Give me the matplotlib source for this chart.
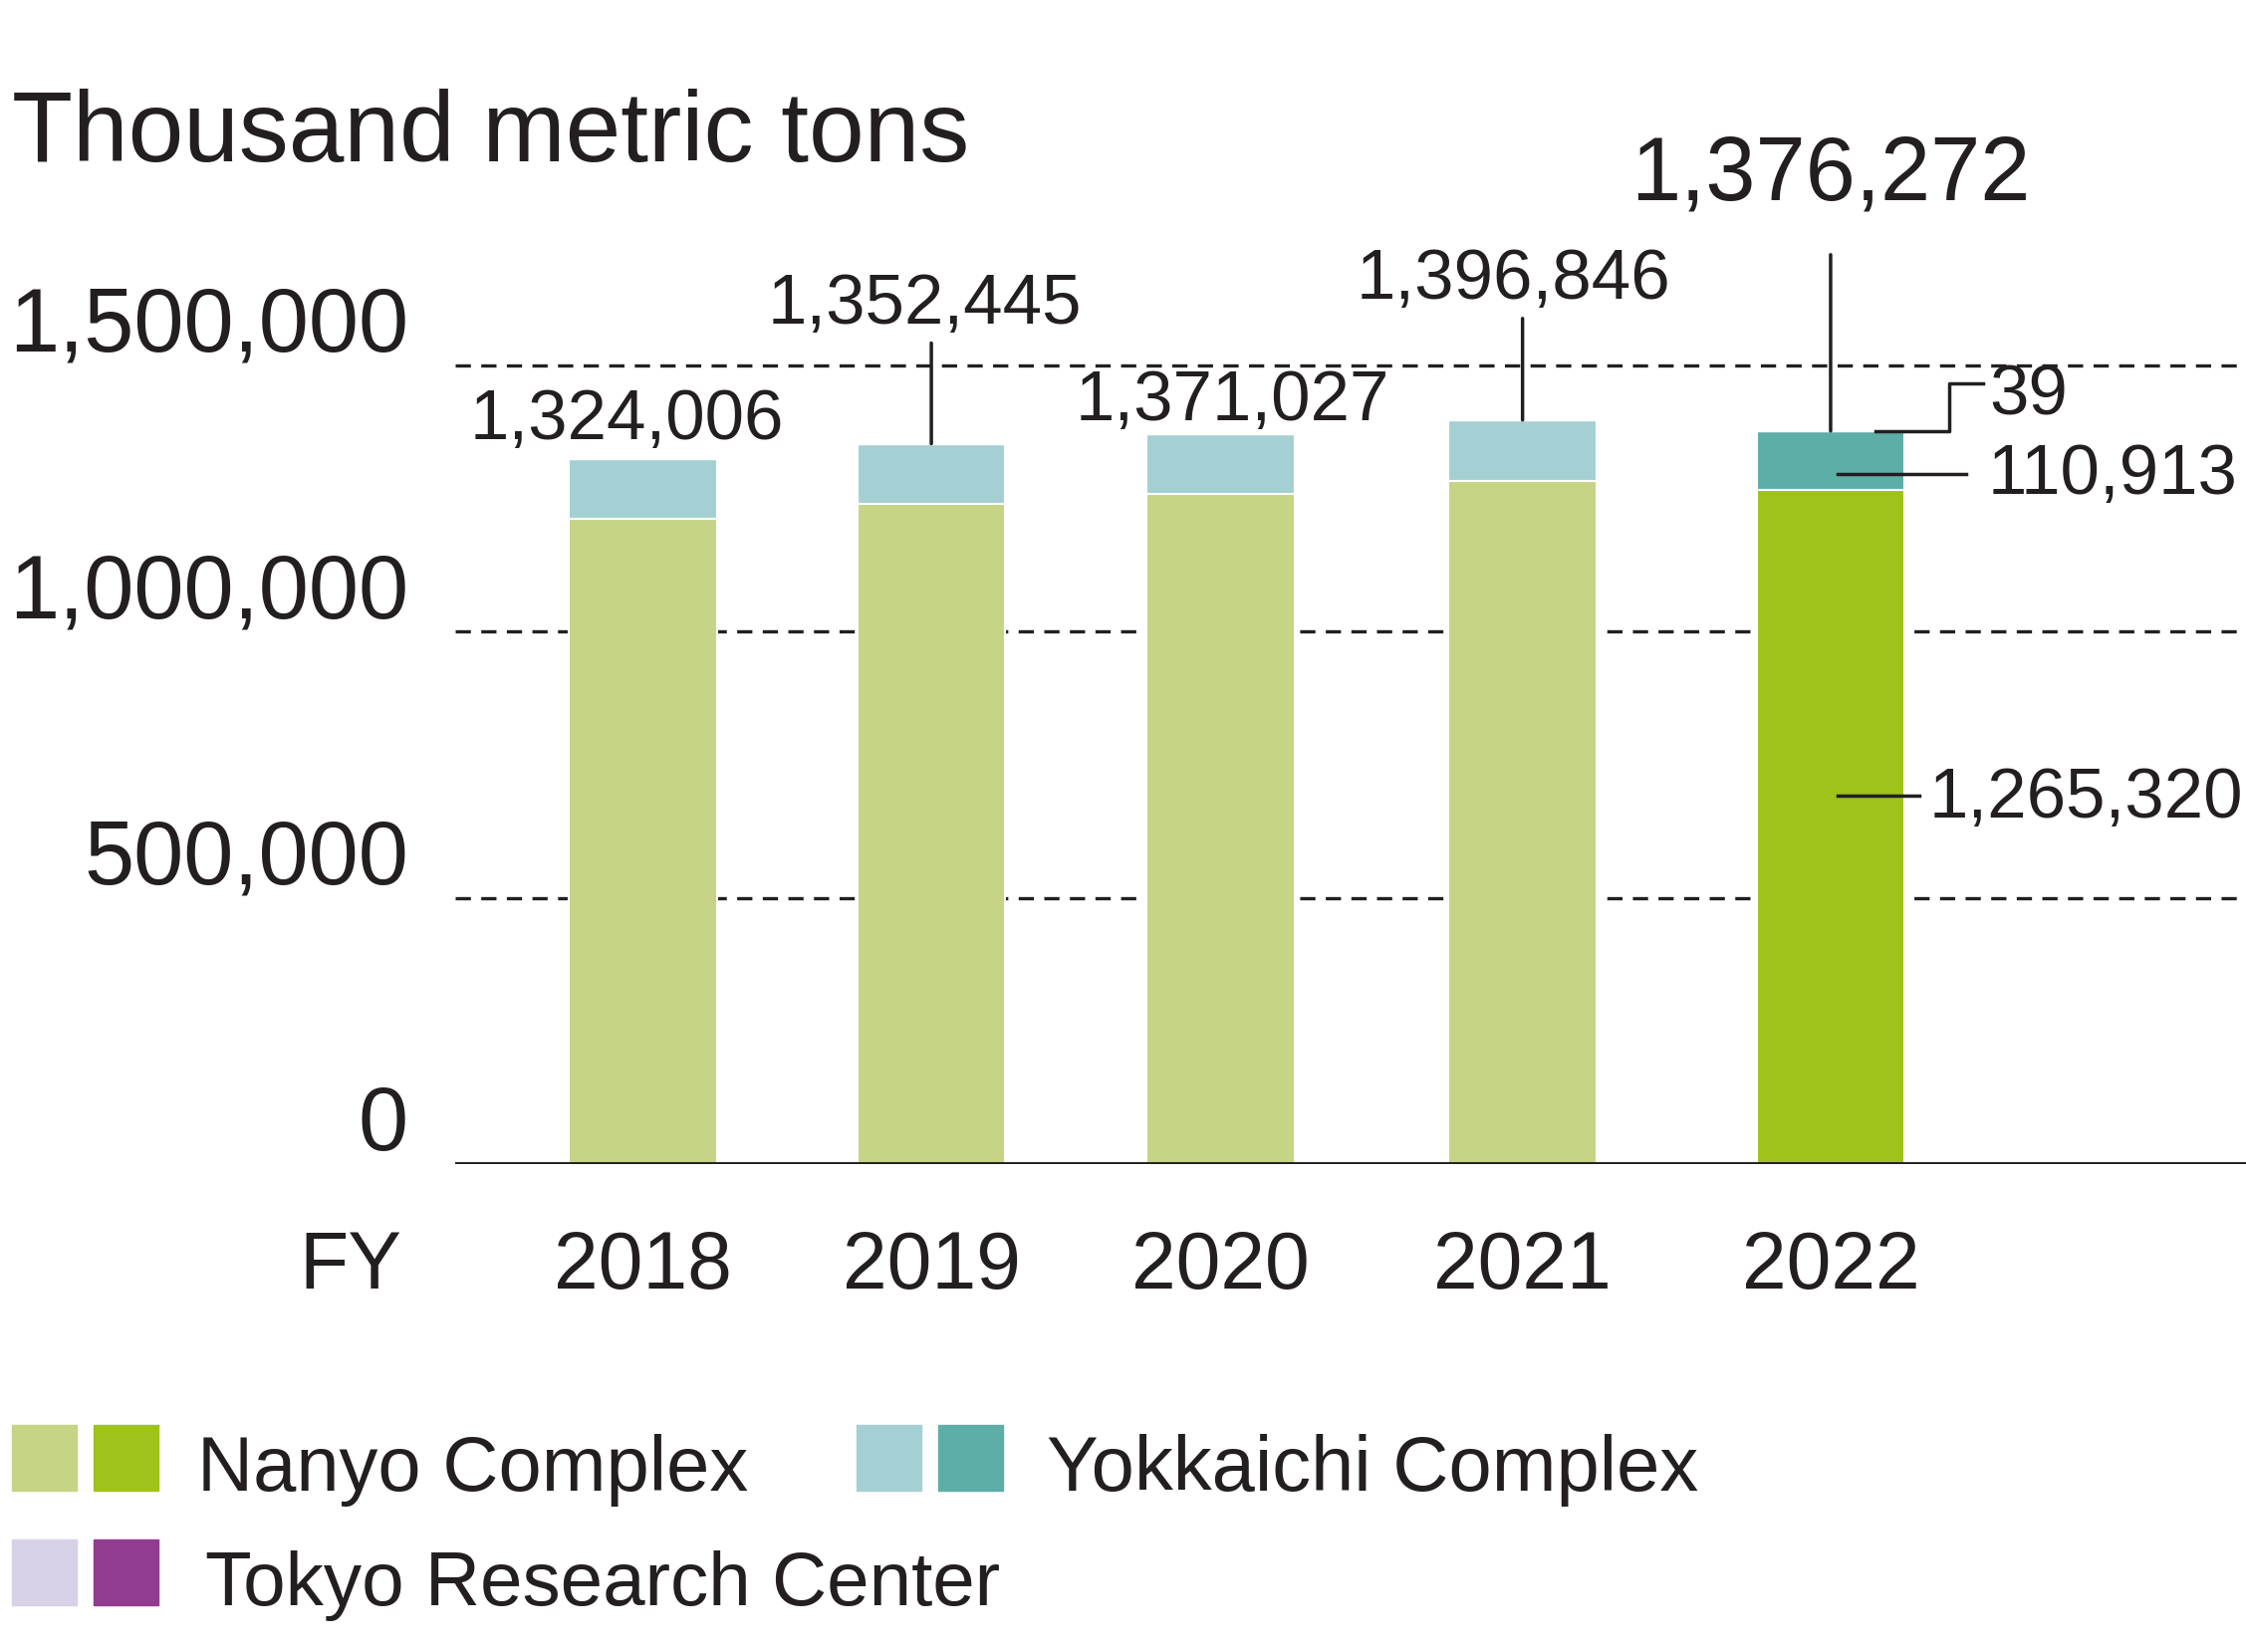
import numpy as np
import matplotlib
matplotlib.use("Agg")
import matplotlib.pyplot as plt
from matplotlib.patches import Rectangle
from matplotlib.lines import Line2D
from matplotlib.transforms import IdentityTransform

plt.rcParams['font.family'] = ['Liberation Sans', 'DejaVu Sans']
plt.rcParams['lines.scale_dashes'] = False

years = ['2018', '2019', '2020', '2021', '2022']
nanyo = [1212000, 1240000, 1258000, 1282000, 1265320]
yokkaichi = [111966, 112405, 112987, 114806, 110913]
tokyo = [40, 40, 40, 40, 39]
totals = [1324006, 1352445, 1371027, 1396846, 1376272]
yticks = [0, 500000, 1000000, 1500000]

ink = '#231f20'
light = {'Nanyo': '#c5d485', 'Yokkaichi': '#a4d0d3', 'Tokyo': '#d9d1e6'}
dark = {'Nanyo': '#9fc31a', 'Yokkaichi': '#5eaea8', 'Tokyo': '#923c8f'}

W, H = 2255, 1659
fig = plt.figure(figsize=(W / 100, H / 100), dpi=100)
ax = fig.add_axes([457 / W, 1 - 1169 / H, 1 - 457 / W, 1169 / H])
ax.set_xlim(-0.634, 5.406)
ax.set_ylim(0, 2185300)
ax.axis('off')

# slot positions of the bars (slightly uneven in the original)
x = np.array([0, 0.972, 1.948, 2.966, 4.005])
last = len(years) - 1
c_n = [dark['Nanyo'] if i == last else light['Nanyo'] for i in range(len(x))]
c_y = [dark['Yokkaichi'] if i == last else light['Yokkaichi'] for i in range(len(x))]
c_t = [dark['Tokyo'] if i == last else light['Tokyo'] for i in range(len(x))]
bottom2 = np.array(nanyo) + np.array(yokkaichi)
ax.bar(x, nanyo, 0.5, color=c_n, edgecolor='white', linewidth=1.5, zorder=3)
ax.bar(x, yokkaichi, 0.5, bottom=nanyo, color=c_y, edgecolor='white', linewidth=1.5, zorder=3)
ax.bar(x, tokyo, 0.5, bottom=bottom2, color=c_t, edgecolor='white', linewidth=1.0, zorder=3)

# grid and baseline
for v in yticks[1:]:
    ax.axhline(v, color=ink, lw=2.4, dashes=(11, 7.5), zorder=1)
ax.axhline(0, color=ink, lw=2.8, zorder=4)

for v in yticks:
    ax.annotate(f'{v:,}', xy=(0, v), xycoords=('axes fraction', 'data'),
                xytext=(-47, 14), textcoords='offset pixels',
                ha='right', va='baseline', fontsize=65, color=ink)

for i, yr in enumerate(years):
    ax.annotate(yr, xy=(x[i], 0), xytext=(0, -125), textcoords='offset pixels',
                ha='center', va='baseline', fontsize=58, color=ink)
ax.annotate('FY', xy=(0, 0), xycoords='axes fraction', xytext=(-54, -125),
            textcoords='offset pixels', ha='right', va='baseline',
            fontsize=58, color=ink)

# total labels: (dx, dy of text, leader length)
label_pos = [(-16, 20, 0), (-7, 121, 101), (12, 14, 0), (-9, 122, 102), (0, 232, 177)]
for i, t in enumerate(totals):
    dx, dy, lead = label_pos[i]
    fs = 65 if i == last else 51
    ax.annotate(f'{t:,}', xy=(x[i], t), xytext=(dx, dy), textcoords='offset pixels',
                ha='center', va='baseline', fontsize=fs, color=ink, zorder=6)
    if lead:
        ax.annotate('', xy=(x[i], t), xytext=(0, lead), textcoords='offset pixels',
                    arrowprops=dict(arrowstyle='-', lw=2.5, color=ink,
                                    shrinkA=0, shrinkB=0), zorder=6)


def px_line(xd, yd, pts):
    base = ax.transData.transform((xd, yd))
    p = np.array(pts, dtype=float) + base
    ax.add_line(Line2D(p[:, 0], p[:, 1], transform=IdentityTransform(),
                       color=ink, lw=2.5, zorder=6, clip_on=False))


# 2022 breakdown
xl = x[last]
px_line(xl, totals[last], [(45, 0), (119, 0), (119, 48), (153, 48)])
ax.annotate(f'{tokyo[last]:,}', xy=(xl, totals[last]), xytext=(159, 16),
            textcoords='offset pixels', ha='left', va='baseline', fontsize=51, color=ink)
ymid = nanyo[last] + yokkaichi[last] / 2
px_line(xl, ymid, [(7, -14), (136, -14)])
ax.annotate(f'{yokkaichi[last]:,}', xy=(xl, ymid), xytext=(158, -34),
            textcoords='offset pixels', ha='left', va='baseline', fontsize=51, color=ink)
ymid = nanyo[last] / 2
px_line(xl, ymid, [(7, 32), (89, 32)])
ax.annotate(f'{nanyo[last]:,}', xy=(xl, ymid), xytext=(99, 10),
            textcoords='offset pixels', ha='left', va='baseline', fontsize=51, color=ink)

fig.text(12 / W, 1 - 162 / H, 'Thousand metric tons', ha='left', va='baseline',
         fontsize=72, color=ink)

# legend
legend = [('Nanyo', 'Nanyo Complex', 12, 1431, 198, 56),
          ('Yokkaichi', 'Yokkaichi Complex', 860, 1431, 1051, 56),
          ('Tokyo', 'Tokyo Research Center', 12, 1546, 206, 55)]
for key, name, lx, ly, tx, fs in legend:
    for j, col in enumerate([light[key], dark[key]]):
        fig.patches.append(Rectangle(((lx + j * 82) / W, 1 - (ly + 66) / H), 65 / W, 66 / H,
                                     transform=fig.transFigure, color=col))
    fig.text(tx / W, 1 - (ly + 66) / H, name, ha='left', va='baseline',
             fontsize=fs, color=ink)

fig.savefig('out.png', dpi=100)
